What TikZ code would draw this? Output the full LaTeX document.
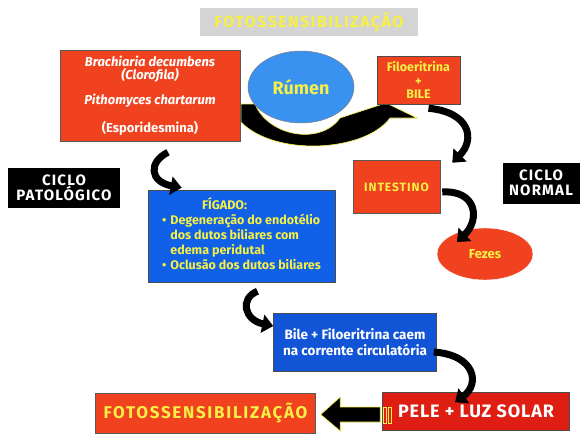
\documentclass[tikz,border=0pt]{standalone}
\usepackage{fontspec}
\setmainfont{Fira Sans}
\usetikzlibrary{arrows.meta,shapes.geometric,calc}

\definecolor{boxred}{RGB}{240,66,30}
\definecolor{pelered}{RGB}{222,30,18}
\definecolor{liverblue}{RGB}{16,96,232}
\definecolor{bileblue}{RGB}{18,84,214}
\definecolor{rumenblue}{RGB}{58,146,240}
\definecolor{txtyellow}{RGB}{246,240,70}
\definecolor{titlegray}{RGB}{212,212,212}

\newcommand{\capsfont}[2]{\bfseries\fontsize{#1}{#1}\selectfont\addfontfeatures{LetterSpace=#2}}

\begin{document}
\begin{tikzpicture}[x=1pt,y=1pt,
  redbox/.style={fill=boxred,draw=gray!70!black,line width=0.5pt,inner sep=0pt},
  cyclebox/.style={fill=black,text=white,inner sep=0pt,font=\capsfont{15}{8},align=center},
  bluebox/.style={draw=gray!60!black,line width=0.5pt,inner sep=0pt},
  curvy/.style={line width=7pt,-{Triangle[width=18pt,length=11pt]}},
]
  \useasboundingbox (0,0) rectangle (587,-442);

  % title
  \node[fill=titlegray,minimum width=218pt,minimum height=28pt,inner sep=0pt,
        text=txtyellow,font=\capsfont{16}{9}] (title) at (309,-22) {FOTOSSENSIBILIZAÇÃO};

  % U arrow under the rumen
  \draw[fill=black,draw=txtyellow,line width=0.6pt]
    (241,-104) -- (255,-104) .. controls (268,-136) and (320,-146) .. (340,-118)
    -- (386,-103) -- (417,-118) -- (390,-118)
    .. controls (365,-152) and (275,-157) .. (241,-122) -- cycle;

  % upper row
  \node[redbox,minimum width=180pt,minimum height=91pt,text=white,align=center,
        font=\bfseries\fontsize{13}{13.5}\selectfont] (bra) at (150,-95.5)
        {\itshape Brachiaria decumbens\\ \itshape (Clorofila)\\[11pt]
         \itshape Pithomyces chartarum\\[13pt] (Esporidesmina)};
  \node[ellipse,fill=rumenblue,draw=gray,line width=0.5pt,minimum width=106pt,minimum height=72pt,
        inner sep=0pt,text=txtyellow,font=\bfseries\fontsize{18}{18}\selectfont] (rum) at (301,-87) {Rúmen};
  \node[redbox,draw=black!70,minimum width=83pt,minimum height=48pt,text=txtyellow,align=center,
        font=\bfseries\fontsize{12.5}{13.5}\selectfont] (fil) at (418.5,-80) {Filoeritrina\\+\\BILE};

  % normal cycle
  \node[redbox,minimum width=87pt,minimum height=53pt,text=txtyellow,
        font=\capsfont{12}{8}] (int) at (396.5,-187) {INTESTINO};
  \node[cyclebox,minimum width=77pt,minimum height=41pt] (nor) at (541,-183) {CICLO\\NORMAL};
  \node[ellipse,fill=boxred,draw=white,minimum width=96pt,minimum height=52pt,inner sep=0pt,
        text=txtyellow,font=\bfseries\fontsize{13}{13}\selectfont] (fez) at (485,-254) {Fezes};

  % pathological cycle
  \node[cyclebox,minimum width=112pt,minimum height=40pt] (pat) at (64,-188) {CICLO\\PATOLÓGICO};
  \node[bluebox,fill=liverblue,minimum width=187pt,minimum height=92pt,text=txtyellow,
        font=\bfseries\fontsize{12.5}{15}\selectfont] (fig) at (241.5,-236)
        {\begin{tabular}{@{}l@{\hspace{4pt}}l@{}}
          \multicolumn{2}{@{}l}{\hspace{40pt}FÍGADO:}\\
          • & Degeneração do endotélio\\
            & dos dutos biliares com\\
            & edema peridutal\\
          • & Oclusão dos dutos biliares
         \end{tabular}};
  \node[bluebox,fill=bileblue,minimum width=163pt,minimum height=58pt,text=white,align=center,
        font=\bfseries\fontsize{13.5}{16}\selectfont] (bile) at (355,-342)
        {Bile + Filoeritrina caem\\na corrente circulatória};

  % bottom row
  \node[fill=pelered,draw=gray!60!black,line width=0.5pt,minimum width=187pt,minimum height=38pt,
        inner sep=0pt,text=white,font=\capsfont{18}{5}] (pele) at (476,-411.5) {PELE + LUZ SOLAR};
  \node[redbox,minimum width=220pt,minimum height=40pt,text=txtyellow,
        font=\capsfont{17}{10}] (fot) at (205.5,-413) {FOTOSSENSIBILIZAÇÃO};

  % curved arrows
  \draw[curvy] ($(fil.south)+(10,-4)$) .. controls +(42,-4) and +(23,23) .. ($(int.north east)+(12,-2.5)$);
  \draw[curvy] ($(int.east)+(2,-5)$) .. controls +(35,2) and +(23,22) .. ($(fez.center)+(-28,12)$);
  \draw[curvy] ($(bra.south)+(18,-11)$) .. controls +(-20,-10) and +(-32,6) .. ($(fig.north west)+(34,2)$);
  \draw[curvy] ($(fig.south)+(16,-9)$) .. controls +(-18,-7) and +(-29,6) .. ($(bile.west)+(0,16)$);
  \draw[curvy] ($(bile.east)+(-3,-10)$) .. controls +(42,-3) and +(25,18) .. ($(pele.north)+(-21,-10)$);

  % block arrow pele -> fotossensibilizacao
  \draw[fill=black,draw=txtyellow,line width=0.6pt]
    ($(pele.west)+(-2,4.5)$) -- ++(-40,0) -- ++(0,10) -- ($(fot.east)+(5,-1.5)$)
    -- ($(pele.west)+(-42,-19.5)$) -- ++(0,9) -- ++(40,0) -- cycle;
  \draw[txtyellow,line width=0.8pt] ($(pele.west)+(1,4.5)$) rectangle ++(3.5,-16)
    ($(pele.west)+(6,4.5)$) rectangle ++(3.5,-16);
\end{tikzpicture}
\end{document}
